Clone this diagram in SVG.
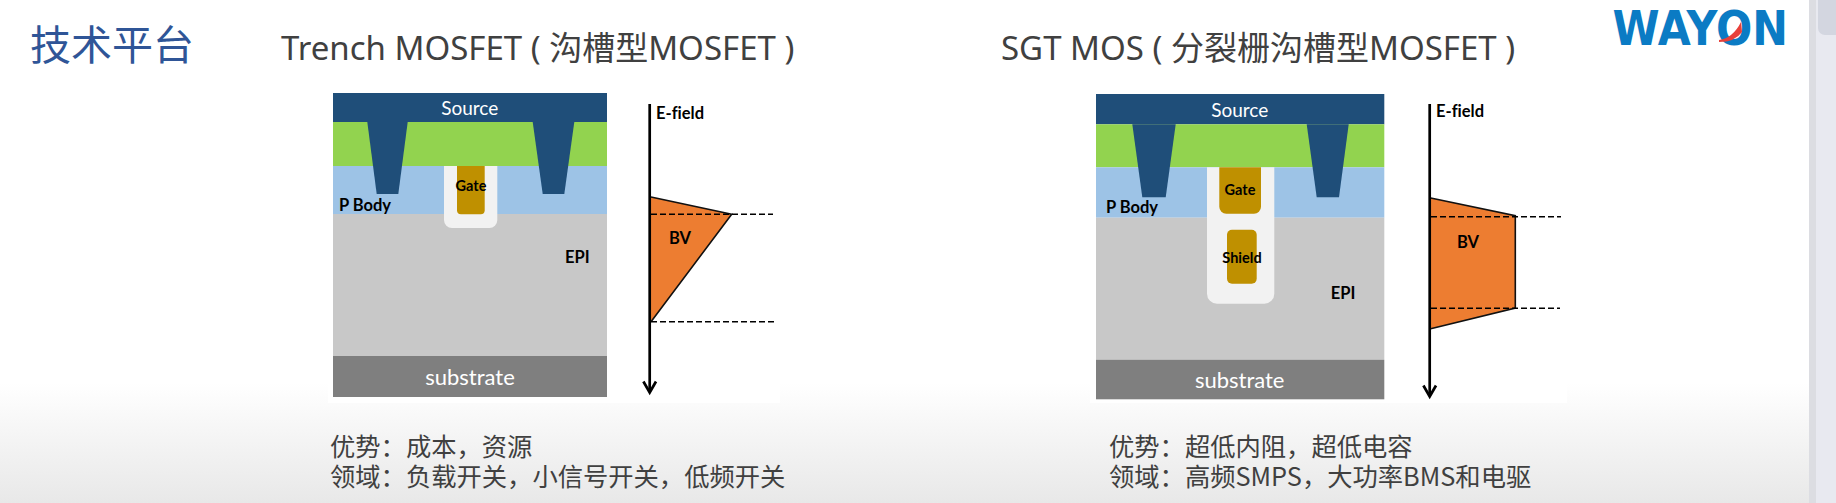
<svg xmlns="http://www.w3.org/2000/svg" width="1836" height="503" viewBox="0 0 1836 503">
<style>
.src{fill:#1f4e79}.grn{fill:#92d34f}.pb{fill:#9dc3e6}.epi{fill:#c8c8c8}.sub{fill:#7f7f7f}.ox{fill:#f2f2f2}.poly{fill:#bf9000}
.bv{fill:#ed7d31}.edge{fill:none;stroke:#111;stroke-width:1.6}
.axis{fill:none;stroke:#000;stroke-width:2.7;marker-end:url(#arrow)}
.dash{fill:none;stroke:#000;stroke-width:1.6;stroke-dasharray:6 3}
.l{font-family:Lato,"Noto Sans CJK SC",sans-serif;font-variant-ligatures:none}
.w{fill:#fff;font-size:19px;text-anchor:middle}.ws{fill:#fff;font-size:22px;text-anchor:middle}
.b{fill:#000;font-weight:700;font-size:16.500px}.bs{fill:#000;font-weight:700;font-size:14.500px;text-anchor:middle}
.t{font-family:"Noto Sans","Noto Sans CJK SC",sans-serif;font-size:33px;fill:#404040}
.d{font-family:"Noto Sans CJK SC",sans-serif;font-size:25.300px;fill:#404040}
</style>
<defs>
<linearGradient id="bg" x1="0" y1="0" x2="0" y2="1"><stop offset="0" stop-color="#fff"/><stop offset="1" stop-color="#e8e8e8"/></linearGradient>
<marker id="arrow" markerUnits="userSpaceOnUse" markerWidth="18" markerHeight="18" refX="13" refY="8" orient="auto" viewBox="0 0 18 16"><path d="M2.500 1.700L13.500 8L2.500 14.300" fill="none" stroke="#000" stroke-width="2.700"/></marker>
</defs>
<rect width="1836" height="503" fill="#fff"/>
<rect y="383" width="1836" height="120" fill="url(#bg)"/>
<rect x="1809" width="7" height="503" fill="#dcdde2"/>
<rect x="1816" width="20" height="503" fill="#e8e9f0"/>
<rect x="1818" y="-10" width="24" height="45" rx="7" fill="#d3d6e0"/>
<rect x="328" y="80" width="452" height="323" fill="#fff"/>
<rect x="1090" y="80" width="477" height="323" fill="#fff"/>

<text x="30" y="60" font-family="'Noto Sans CJK SC',sans-serif" font-size="41px" fill="#2f5597">技术平台</text>
<g id="logo">
<text x="1612.500" y="45" font-family="'DejaVu Sans',sans-serif" font-weight="700" font-size="48px" fill="#0b7bc4" textLength="175.500" lengthAdjust="spacingAndGlyphs">WAYON</text>
<path d="M1719 40Q1733 38 1741 22L1742 32Q1735 42 1719 42Z" fill="#e8403a"/>
</g>
<text class="t" x="281" y="60">Trench MOSFET ( 沟槽型MOSFET )</text>
<text class="t" x="1001" y="60">SGT MOS ( 分裂栅沟槽型MOSFET )</text>

<g id="trench-mosfet">
<rect class="src" x="333" y="93" width="274" height="29"/>
<rect class="grn" x="333" y="122" width="274" height="44"/>
<rect class="pb" x="333" y="166" width="274" height="48"/>
<rect class="epi" x="333" y="214" width="274" height="142"/>
<rect class="sub" x="333" y="356" width="274" height="41"/>
<path class="src" d="M367.300 122H407.700L398.300 194H376.700Z"/>
<path class="src" d="M532.700 122H574.300L564.300 194H542.700Z"/>
<path class="ox" d="M444 166H497.300V220a8 8 0 0 1-8 8H452a8 8 0 0 1-8-8Z"/>
<path class="poly" d="M457 166H484.700V210.300a4 4 0 0 1-4 4H461a4 4 0 0 1-4-4Z"/>
<text class="l w" x="469.700" y="115">Source</text>
<text class="l ws" x="470" y="385">substrate</text>
<text class="l b" x="339" y="210.700">P Body</text>
<text class="l bs" x="471" y="190.700">Gate</text>
<text class="l b" x="565" y="263">EPI</text>
</g>
<g id="trench-field">
<path class="bv" d="M651 197L731.700 214.300L651 321.700Z"/>
<path class="edge" d="M651 197L731.700 214.300L651 321.700"/>
<text class="l b" x="669" y="244">BV</text>
<text class="l b" x="656" y="118.700">E-field</text>
</g>

<g id="sgt-mos">
<rect class="src" x="1096" y="94" width="288.300" height="30.300"/>
<rect class="grn" x="1096" y="124.300" width="288.300" height="43"/>
<rect class="pb" x="1096" y="167.300" width="288.300" height="50.400"/>
<rect class="epi" x="1096" y="217.700" width="288.300" height="142"/>
<rect class="sub" x="1096" y="359.700" width="288.300" height="39.600"/>
<path class="src" d="M1132.300 124.300H1175.700L1165.700 197.300H1142.300Z"/>
<path class="src" d="M1306.700 124.300H1348.700L1339 197.300H1316.700Z"/>
<path class="ox" d="M1207 167.300H1274.300V293.700a10 10 0 0 1-10 10H1217a10 10 0 0 1-10-10Z"/>
<path class="poly" d="M1219.300 167.300H1261V206.700a7 7 0 0 1-7 7H1226.300a7 7 0 0 1-7-7Z"/>
<rect class="poly" x="1227" y="229.700" width="29.700" height="54" rx="5"/>
<text class="l w" x="1239.700" y="116.700">Source</text>
<text class="l ws" x="1239.700" y="388">substrate</text>
<text class="l b" x="1106" y="213">P Body</text>
<text class="l bs" x="1240" y="195">Gate</text>
<text class="l bs" x="1242" y="263">Shield</text>
<text class="l b" x="1330.700" y="299">EPI</text>
</g>
<g id="sgt-field">
<path class="bv" d="M1430.700 198L1515.300 215.700V308L1430.700 328.700Z"/>
<path class="edge" d="M1430.700 198L1515.300 215.700V308L1430.700 328.700"/>
<text class="l b" x="1457" y="247.700">BV</text>
<text class="l b" x="1436" y="117">E-field</text>
</g>

<g id="connectors">
<path class="axis" d="M649.700 104V392"/>
<path class="dash" d="M651 214.300H773"/>
<path class="dash" d="M651 321.700H776"/>
<path class="axis" d="M1429.700 104V396"/>
<path class="dash" d="M1431 216.700H1561"/>
<path class="dash" d="M1431 308.300H1560"/>
</g>

<text class="d" x="330" y="456">优势：成本，资源</text>
<text class="d" x="330" y="486">领域：负载开关，小信号开关，低频开关</text>
<text class="d" x="1109" y="456">优势：超低内阻，超低电容</text>
<text class="d" x="1109" y="486">领域：高频SMPS，大功率BMS和电驱</text>
</svg>
